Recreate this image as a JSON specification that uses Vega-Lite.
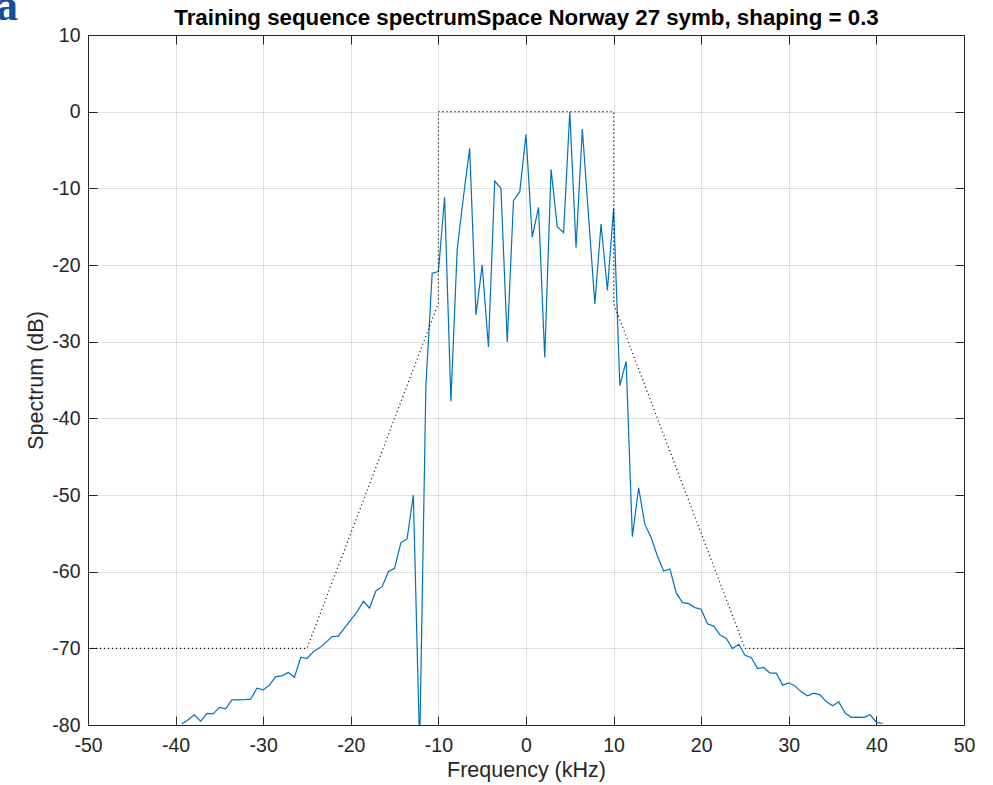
{
  "$schema": "https://vega.github.io/schema/vega-lite/v6.json",
  "width": 876,
  "height": 690,
  "autosize": "none",
  "padding": {"left": 88, "top": 35, "right": 29, "bottom": 60},
  "background": "white",
  "config": {"view": {"stroke": "#262626", "strokeWidth": 1}, "font": "Liberation Sans"},
  "datasets": {
    "spec": [
      {"f": -39.29, "db": -79.88}, {"f": -38.57, "db": -79.32}, {"f": -37.86, "db": -78.67}, {"f": -37.14, "db": -79.53},
      {"f": -36.43, "db": -78.49}, {"f": -35.71, "db": -78.54}, {"f": -35.0, "db": -77.71}, {"f": -34.29, "db": -77.89},
      {"f": -33.57, "db": -76.72}, {"f": -32.86, "db": -76.72}, {"f": -32.14, "db": -76.7}, {"f": -31.43, "db": -76.63},
      {"f": -30.71, "db": -75.2}, {"f": -30.0, "db": -75.4}, {"f": -29.29, "db": -74.8}, {"f": -28.57, "db": -73.68},
      {"f": -27.86, "db": -73.59}, {"f": -27.14, "db": -73.16}, {"f": -26.43, "db": -73.76}, {"f": -25.71, "db": -71.16},
      {"f": -25.0, "db": -71.33}, {"f": -24.29, "db": -70.46}, {"f": -23.57, "db": -69.94}, {"f": -22.86, "db": -69.25},
      {"f": -22.14, "db": -68.47}, {"f": -21.43, "db": -68.42}, {"f": -20.71, "db": -67.34}, {"f": -20.0, "db": -66.3},
      {"f": -19.29, "db": -65.26}, {"f": -18.57, "db": -63.87}, {"f": -17.86, "db": -64.74}, {"f": -17.14, "db": -62.52},
      {"f": -16.43, "db": -61.96}, {"f": -15.71, "db": -60.0}, {"f": -15.0, "db": -59.57}, {"f": -14.29, "db": -56.23},
      {"f": -13.57, "db": -55.7}, {"f": -12.86, "db": -50.02}, {"f": -12.14, "db": -83.0}, {"f": -11.43, "db": -35.83},
      {"f": -10.71, "db": -21.07}, {"f": -10.0, "db": -20.86}, {"f": -9.29, "db": -11.17}, {"f": -8.57, "db": -37.79},
      {"f": -7.86, "db": -18.03}, {"f": -7.14, "db": -11.1}, {"f": -6.43, "db": -4.79}, {"f": -5.71, "db": -26.5},
      {"f": -5.0, "db": -19.99}, {"f": -4.29, "db": -30.7}, {"f": -3.57, "db": -9.05}, {"f": -2.86, "db": -10.0},
      {"f": -2.14, "db": -30.05}, {"f": -1.43, "db": -11.61}, {"f": -0.71, "db": -10.44}, {"f": 0.0, "db": -2.97},
      {"f": 0.71, "db": -16.38}, {"f": 1.43, "db": -12.47}, {"f": 2.14, "db": -32.06}, {"f": 2.86, "db": -7.53},
      {"f": 3.57, "db": -15.0}, {"f": 4.29, "db": -15.78}, {"f": 5.0, "db": 0.0}, {"f": 5.71, "db": -17.73},
      {"f": 6.43, "db": -2.28}, {"f": 7.14, "db": -13.6}, {"f": 7.86, "db": -25.07}, {"f": 8.57, "db": -14.65},
      {"f": 9.29, "db": -23.33}, {"f": 10.0, "db": -12.6}, {"f": 10.71, "db": -35.74}, {"f": 11.43, "db": -32.57},
      {"f": 12.14, "db": -55.44}, {"f": 12.86, "db": -49.06}, {"f": 13.57, "db": -53.84}, {"f": 14.29, "db": -55.58},
      {"f": 15.0, "db": -57.96}, {"f": 15.71, "db": -59.92}, {"f": 16.43, "db": -59.65}, {"f": 17.14, "db": -62.74},
      {"f": 17.86, "db": -64.04}, {"f": 18.57, "db": -64.17}, {"f": 19.29, "db": -64.69}, {"f": 20.0, "db": -64.9},
      {"f": 20.71, "db": -66.8}, {"f": 21.43, "db": -67.1}, {"f": 22.14, "db": -68.25}, {"f": 22.86, "db": -68.72},
      {"f": 23.57, "db": -70.03}, {"f": 24.29, "db": -69.47}, {"f": 25.0, "db": -70.9}, {"f": 25.71, "db": -71.2},
      {"f": 26.43, "db": -72.63}, {"f": 27.14, "db": -72.5}, {"f": 27.86, "db": -73.24}, {"f": 28.57, "db": -73.24},
      {"f": 29.29, "db": -74.8}, {"f": 30.0, "db": -74.5}, {"f": 30.71, "db": -74.9}, {"f": 31.43, "db": -75.68},
      {"f": 32.14, "db": -76.2}, {"f": 32.86, "db": -75.85}, {"f": 33.57, "db": -76.07}, {"f": 34.29, "db": -76.98},
      {"f": 35.0, "db": -77.5}, {"f": 35.71, "db": -76.98}, {"f": 36.43, "db": -78.45}, {"f": 37.14, "db": -79.0},
      {"f": 37.86, "db": -78.98}, {"f": 38.57, "db": -79.0}, {"f": 39.29, "db": -78.67}, {"f": 40.0, "db": -79.66},
      {"f": 40.71, "db": -79.8}
    ],
    "mask": [
      {"i": 0, "f": -50, "db": -70}, {"i": 1, "f": -25, "db": -70}, {"i": 2, "f": -10, "db": -25}, {"i": 3, "f": -10, "db": 0},
      {"i": 4, "f": 10, "db": 0}, {"i": 5, "f": 10, "db": -25}, {"i": 6, "f": 25, "db": -70}, {"i": 7, "f": 50, "db": -70}
    ]
  },
  "layer": [
    {
      "data": {"name": "spec"},
      "mark": {"type": "line", "color": "#0072BD", "strokeWidth": 1.2, "clip": true},
      "encoding": {
        "x": {"field": "f", "type": "quantitative", "scale": {"domain": [-50, 50], "nice": false, "zero": false},
          "axis": {"orient": "bottom", "values": [-50, -40, -30, -20, -10, 0, 10, 20, 30, 40, 50], "grid": true,
            "labelExpr": "datum.value < 0 ? '-' + abs(datum.value) : '' + datum.value",
            "gridColor": "#262626", "gridOpacity": 0.15, "tickSize": -9, "tickColor": "#262626", "domainColor": "#262626",
            "labelFontSize": 19.5, "labelColor": "#262626", "labelPadding": 20, "labelFlush": false, "labelOverlap": false,
            "title": "Frequency (kHz)", "titleFontSize": 21.5, "titleFontWeight": "normal", "titleColor": "#262626", "titlePadding": 5}},
        "y": {"field": "db", "type": "quantitative", "scale": {"domain": [-80, 10], "nice": false, "zero": false},
          "axis": {"orient": "left", "values": [-80, -70, -60, -50, -40, -30, -20, -10, 0, 10], "grid": true,
            "labelExpr": "datum.value < 0 ? '-' + abs(datum.value) : '' + datum.value",
            "gridColor": "#262626", "gridOpacity": 0.15, "tickSize": -9, "tickColor": "#262626", "domainColor": "#262626",
            "labelFontSize": 19.5, "labelColor": "#262626", "labelPadding": 17, "labelFlush": false, "labelOverlap": false,
            "title": "Spectrum (dB)", "titleFontSize": 21.5, "titleFontWeight": "normal", "titleColor": "#262626", "titlePadding": 4}}
      }
    },
    {
      "data": {"name": "mask"},
      "mark": {"type": "line", "color": "black", "strokeDash": [1, 3], "strokeWidth": 1.2},
      "encoding": {
        "x": {"field": "f", "type": "quantitative", "scale": {"domain": [-50, 50], "nice": false, "zero": false},
          "axis": {"orient": "top", "values": [-50, -40, -30, -20, -10, 0, 10, 20, 30, 40, 50], "grid": false, "labels": false,
            "tickSize": -9, "tickColor": "#262626", "domainColor": "#262626",
            "title": "Training sequence spectrumSpace Norway 27 symb, shaping = 0.3", "titleFontSize": 22.3, "titleFontWeight": "bold",
            "titleColor": "black", "titlePadding": 5}},
        "y": {"field": "db", "type": "quantitative", "scale": {"domain": [-80, 10], "nice": false, "zero": false},
          "axis": {"orient": "right", "values": [-80, -70, -60, -50, -40, -30, -20, -10, 0, 10], "grid": false, "labels": false,
            "tickSize": -9, "tickColor": "#262626", "domainColor": "#262626", "title": null}},
        "order": {"field": "i", "type": "quantitative"}
      }
    },
    {
      "data": {"values": [{"label": "a"}]},
      "mark": {"type": "text", "font": "Liberation Serif", "fontSize": 44, "fontWeight": "bold", "color": "#1a4c9c", "align": "left", "baseline": "alphabetic", "clip": false},
      "encoding": {
        "text": {"field": "label", "type": "nominal"},
        "x": {"datum": -60.5, "type": "quantitative", "axis": null},
        "y": {"datum": 12.0, "type": "quantitative", "axis": null}
      }
    }
  ],
  "resolve": {"axis": {"x": "independent", "y": "independent"}}
}
